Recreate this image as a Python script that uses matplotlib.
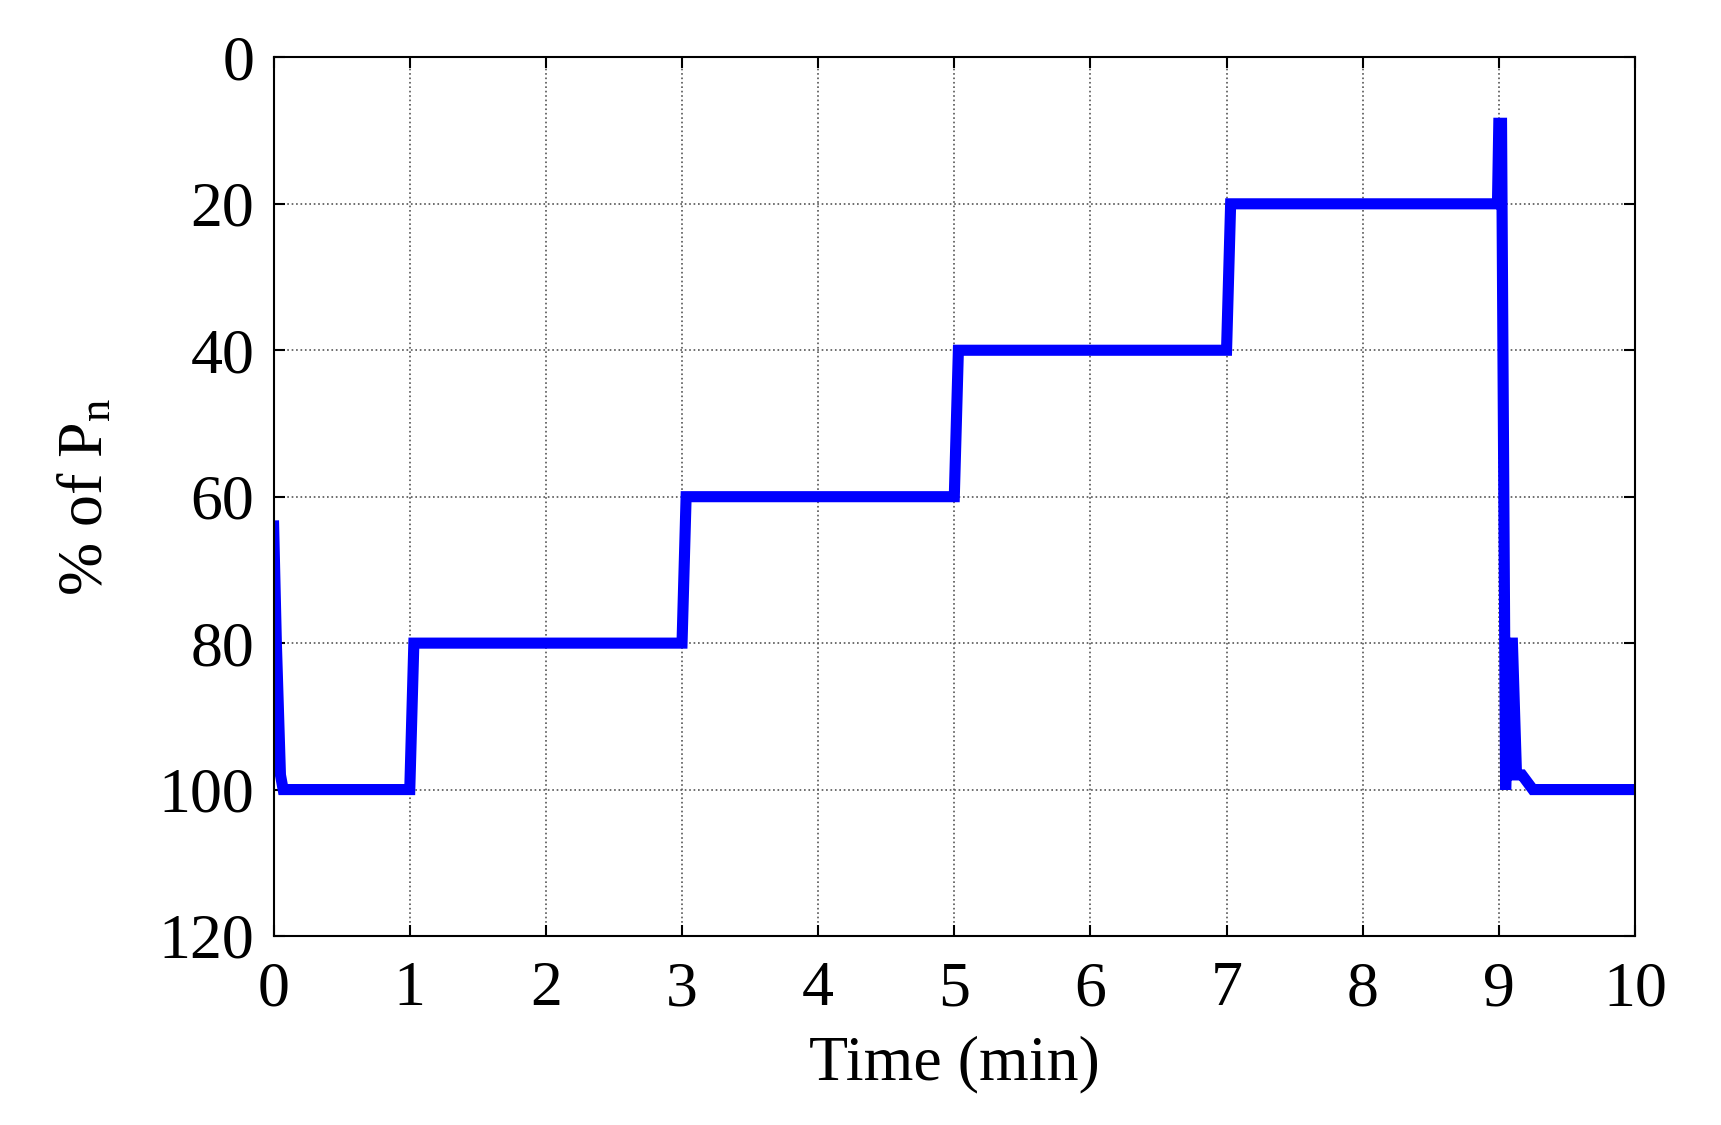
import matplotlib.pyplot as plt

# данные: ступенчатое изменение мощности
time_min = [0.0, 0.02, 0.05, 0.07, 1.0, 1.03, 3.0, 3.03, 5.0, 5.03, 7.0, 7.03, 8.99, 9.0, 9.02, 9.05, 9.08, 9.1, 9.13, 9.17, 9.25, 10.0]
power_pct = [64, 80, 98, 100, 100, 80, 80, 60, 60, 40, 40, 20, 20, 9, 9, 100, 80, 80, 98, 98, 100, 100]

plt.rcParams['font.family'] = ['Liberation Serif', 'DejaVu Serif']
plt.rcParams['mathtext.fontset'] = 'stix'

fig = plt.figure(figsize=(17.21, 11.25), dpi=100)
ax = fig.add_axes([0.159, 0.168, 0.791, 0.781])

ax.plot(time_min, power_pct, color='#0000ff', linewidth=8, solid_joinstyle='miter')

ax.set_xlim(0, 10)
ax.set_ylim(120, 0)
ax.set_xticks(range(0, 11))
ax.set_yticks(range(0, 121, 20))

ax.grid(True, linestyle=':', color='#555555', linewidth=1.2)
ax.tick_params(direction='in', length=8, width=1.5, labelsize=46, top=True, right=True)
ax.tick_params(axis='x', pad=18)
ax.tick_params(axis='y', pad=14)
for s in ax.spines.values():
    s.set_linewidth(1.5)

ax.set_xlabel('Time (min)', fontsize=46, labelpad=12)
ax.set_ylabel('% of P$_{\\mathregular{n}}$', fontsize=46, labelpad=30)

plt.savefig('out.png', dpi=100)
